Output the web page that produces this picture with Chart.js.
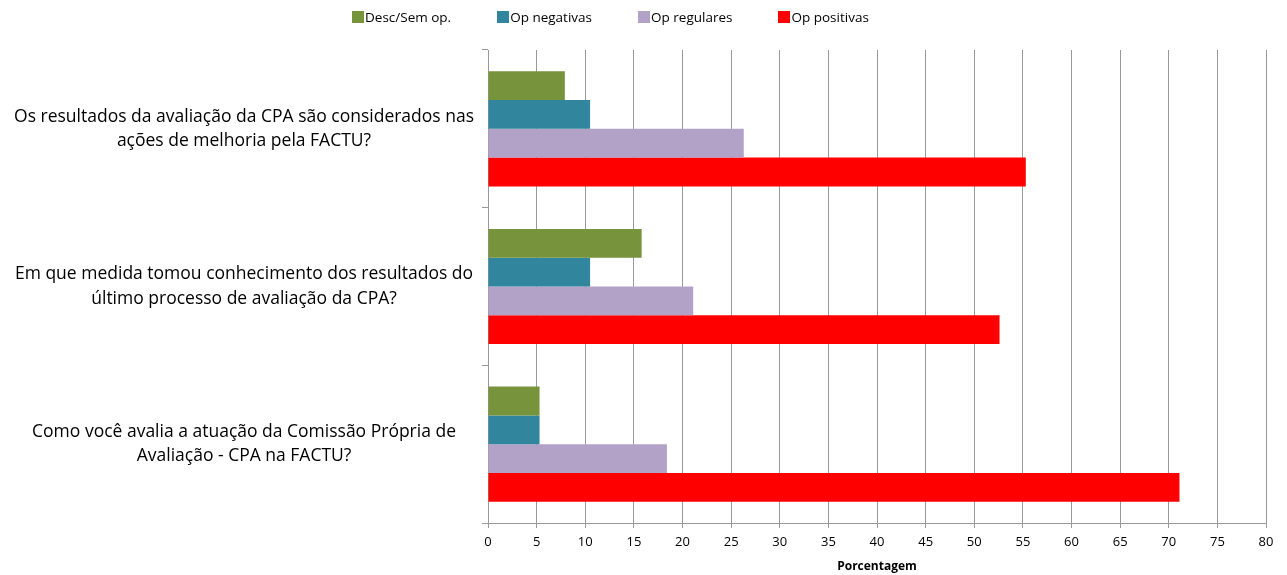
<!DOCTYPE html>
<html>
<head>
<meta charset="utf-8">
<script src="https://cdn.jsdelivr.net/npm/chart.js@4"></script>
<style>
  body { margin: 0; background: #fff; }
  #wrap { position: relative; width: 1287px; height: 575px; }
  #legend { position: absolute; top: 8px; left: 352px; display: flex; gap: 46px;
            font: 13.5px "Open Sans", sans-serif; color: #000; line-height: 18px; }
  #legend div { display: flex; align-items: center; }
  #legend span.box { width: 12px; height: 12px; margin-right: 1px; display: inline-block; }
</style>
</head>
<body>
<div id="wrap">
  <div id="legend"></div>
  <canvas id="myChart" width="1287" height="575"></canvas>
</div>
<script>
// perguntas (de cima para baixo)
const perguntas = [
  ['Os resultados da avaliação da CPA são considerados nas', 'ações de melhoria pela FACTU?'],
  ['Em que medida tomou conhecimento dos resultados do', 'último processo de avaliação da CPA?'],
  ['Como você avalia a atuação da Comissão Própria de', 'Avaliação - CPA na FACTU?']
];

const descSemOp   = [7.9, 15.8, 5.3];
const opNegativas = [10.5, 10.5, 5.3];
const opRegulares = [26.3, 21.1, 18.4];
const opPositivas = [55.3, 52.6, 71.1];

const series = ['Desc/Sem op.', 'Op negativas', 'Op regulares', 'Op positivas'];
const cores = ['#77933C', '#31859C', '#B3A2C7', '#FF0000'];

const fonte = '"Open Sans", sans-serif';
const cinza = '#999999';

const ctx = new Chart(document.getElementById('myChart'), {
  type: 'bar',
  data: {
    labels: perguntas,
    datasets: [descSemOp, opNegativas, opRegulares, opPositivas].map((d, i) => ({
      label: series[i],
      data: d,
      backgroundColor: cores[i],
      borderWidth: 0,
      categoryPercentage: 0.73,
      barPercentage: 1
    }))
  },
  options: {
    indexAxis: 'y',
    responsive: false,
    animation: false,
    layout: { padding: { top: 50, right: 21, bottom: 0, left: 0 } },
    plugins: {
      legend: { display: false },
      tooltip: { enabled: false }
    },
    scales: {
      x: {
        min: 0, max: 80,
        ticks: { stepSize: 5, color: '#000', font: { family: fonte, size: 13 }, padding: 6 },
        grid: { color: cinza, tickLength: 5 },
        border: { color: cinza },
        title: { display: true, text: 'Porcentagem', color: '#000',
                 font: { family: fonte, size: 12, weight: 'bold' }, padding: { top: 2, bottom: 1 } },
        afterFit: s => { s.height = 52; }
      },
      y: {
        ticks: { color: '#000', crossAlign: 'center', padding: 8,
                 font: { family: fonte, size: 17.5, lineHeight: 1.4 } },
        grid: { drawOnChartArea: false, color: cinza, tickLength: 6 },
        border: { color: cinza },
        afterFit: s => { s.width = 488; }
      }
    }
  }
});

// legenda
const leg = document.getElementById('legend');
ctx.data.datasets.forEach(ds => {
  const item = document.createElement('div');
  item.innerHTML = '<span class="box" style="background:' + ds.backgroundColor + '"></span>' + ds.label;
  leg.appendChild(item);
});
</script>
</body>
</html>
